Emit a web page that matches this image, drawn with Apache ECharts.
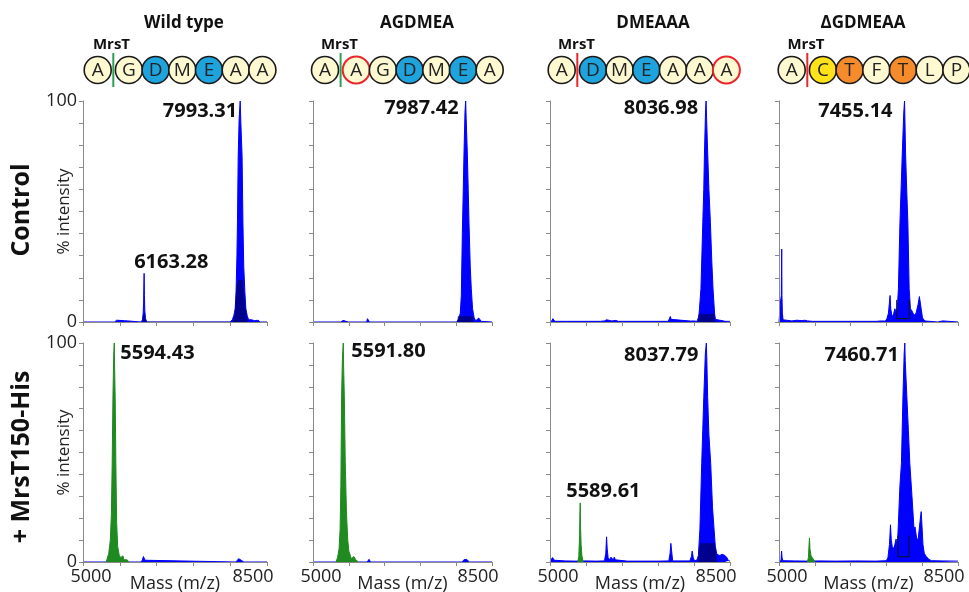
<!DOCTYPE html>
<html><head><meta charset="utf-8">
<script src="https://cdn.jsdelivr.net/npm/echarts@6/dist/echarts.min.js"></script>
<style>html,body{margin:0;padding:0;background:#fff}#c{width:969px;height:592px}</style>
</head><body><div id="c"></div>
<script>
// ---------------- DATA ----------------
const columnTitles = ['Wild type', 'AGDMEA', 'DMEAAA', '\u0394GDMEAA'];
const rowTitles = ['Control', '+ MrsT150-His'];
const proteaseName = 'MrsT';
const sequences = [
  ['A','G','D','M','E','A','A'],
  ['A','A','G','D','M','E','A'],
  ['A','D','M','E','A','A','A'],
  ['A','C','T','F','T','L','P']
];
const residueKinds = [
  ['n','n','b','n','b','n','n'],
  ['n','r','n','b','n','b','n'],
  ['n','b','n','b','n','n','r'],
  ['n','y','o','n','o','n','n']
];
const cleavageMarkColor = ['g','g','r','r'];
const massTicks = [5000, 5700, 6400, 7100, 7800, 8500];
const massTickLabels = [5000, 8500];
const intensityTickLabels = [0, 100];
const xAxisTitle = 'Mass (m/z)';
const yAxisTitle = '% intensity';

// spectra  [mass, % intensity]
const ctrlWT_blue = [[5000,0],[5100,0],[5115,0.8],[5130,0],[5600,0],[5640,0.8],[5660,0],[5790,0.6],[5810,0],[6110,0],[6130,1],[6145,4],[6153,9],[6159,18],[6163,22],[6168,12],[6176,5],[6190,1.5],[6215,0],[7800,0],[7840,1],[7870,3],[7895,6],[7912,14],[7928,30],[7938,45],[7952,75],[7970,92],[7990,100],[8003,90],[8026,75],[8042,45],[8058,25],[8078,14],[8098,6],[8122,3],[8150,1],[8180,0.8],[8210,1],[8260,0.6],[8330,0.8],[8370,0],[8500,0]];
const ctrlWT_dark = [[6140,0],[6152,3],[6163,4],[6174,3],[6188,0],[7860,0],[7890,3],[7910,10],[7930,17],[7960,19],[8030,19],[8060,12],[8090,5],[8120,1],[8140,0]];
const ctrlWT_peaks = [[7990,100,'7993.31'],[6163,22,'6163.28']];

const ctrlAG_blue = [[5000,0],[5010,0],[5020,0.8],[5035,0],[5540,0],[5555,0.6],[5575,0.4],[5590,0.7],[5605,0],[5690,0],[5700,0.6],[5710,0],[6050,0],[6065,1.5],[6078,2.2],[6090,0.8],[6105,0],[7810,0],[7850,1.5],[7880,4],[7900,12],[7920,40],[7940,62],[7952,76],[7972,95],[7985,100],[7995,92],[8018,76],[8035,60],[8050,45],[8075,25],[8095,15],[8120,6],[8150,2],[8180,0.5],[8215,1],[8240,1.8],[8265,1.5],[8290,0.3],[8320,0],[8500,0]];
const ctrlAG_dark = [[7830,0],[7840,2.5],[8120,2.5],[8130,0]];
const ctrlAG_peaks = [[7985,100,'7987.42']];

const ctrlDM_blue = [[5000,0.3],[5040,0.5],[5055,1.5],[5065,2.2],[5078,1],[5095,0.3],[5300,0.3],[5320,0.6],[5340,0.3],[5980,0.3],[6000,0.6],[6060,0.5],[6100,1],[6130,0.6],[6200,0.5],[6280,0.7],[6330,0.3],[7300,0.3],[7325,1],[7340,2.5],[7355,1.2],[7380,0.3],[7740,0.4],[7765,1.2],[7785,0.5],[7860,0.3],[7885,2],[7900,4],[7935,15],[7971,45],[7990,60],[8003,76],[8025,96],[8035,100],[8045,92],[8067,76],[8090,60],[8119,45],[8145,28],[8170,15],[8200,4],[8215,1.2],[8260,1],[8300,0.8],[8360,0.6],[8400,0.3],[8500,0.3]];
const ctrlDM_dark = [[7890,0],[7905,3.5],[8195,3.5],[8212,0]];
const ctrlDM_peaks = [[8035,100,'8036.98']];

const ctrlDG_blue = [[5000,0],[5015,0.5],[5028,9],[5045,12],[5053,33],[5058,12],[5066,4],[5080,1],[5100,0.6],[5250,0.5],[5350,0.8],[5450,0.6],[5500,0.8],[5560,0.5],[5650,0.3],[6900,0.3],[7000,0.5],[7080,0.4],[7110,1.5],[7140,4],[7160,9],[7172,12],[7185,6],[7210,2.5],[7240,3.5],[7265,6],[7280,5],[7300,4],[7320,9],[7335,15],[7365,45],[7390,62],[7410,76],[7440,95],[7455,100],[7462,92],[7475,76],[7500,58],[7520,45],[7545,15],[7570,6],[7600,5],[7640,3],[7680,4],[7720,8],[7745,11.5],[7760,11],[7780,6],[7805,2],[7830,1],[7870,0.4],[7950,0.3],[8100,0],[8200,0.5],[8230,0],[8500,0]];
const ctrlDG_box = [[7301,10],[7301,1.5],[7548,1.5],[7548,10]];
const ctrlDG_peaks = [[7455,100,'7455.14']];

const mrsWT_blue = [[5000,0],[6110,0],[6130,1],[6150,2.5],[6160,2.2],[6180,0.8],[6200,0],[7910,0],[7940,0.8],[7960,1.5],[7985,1.3],[8010,0.8],[8040,0.3],[8060,0],[8500,0]];
const mrsWT_green = [[5440,0],[5460,1.5],[5490,4],[5520,10],[5540,22],[5555,45],[5570,76],[5585,95],[5595,100],[5602,88],[5612,75],[5625,45],[5640,18],[5660,7],[5690,3],[5720,2],[5745,1.2],[5760,2.8],[5775,1],[5800,0.5],[5840,1],[5870,0]];
const mrsWT_peaks = [[5595,100,'5594.43']];

const mrsAG_blue = [[5000,0],[6060,0],[6080,0.8],[6095,1.2],[6110,0.5],[6125,0],[7920,0],[7950,1],[7975,1.6],[8000,1.2],[8030,0.5],[8060,0],[8500,0]];
const mrsAG_green = [[5450,0],[5480,2],[5510,6],[5530,15],[5545,35],[5560,76],[5575,93],[5592,100],[5598,90],[5612,76],[5630,46],[5655,22],[5680,10],[5700,5],[5730,3],[5750,1.5],[5780,2],[5800,2.5],[5830,1.2],[5860,1.8],[5885,0]];
const mrsAG_peaks = [[5592,100,'5591.80']];

const mrsDM_blue = [[5000,0.4],[5030,0.6],[5050,2],[5068,2.6],[5085,0.8],[5110,0.4],[5300,0.5],[5500,0.4],[5700,0.5],[5900,0.4],[6060,0.5],[6085,4],[6100,11.5],[6112,6],[6130,2],[6160,1],[6185,2.2],[6200,1.5],[6230,1],[6250,2.2],[6270,1],[6300,0.5],[6500,0.4],[6800,0.4],[7100,0.4],[7310,0.5],[7335,4],[7350,8.5],[7365,5],[7385,0.5],[7720,0.5],[7750,2.5],[7765,5],[7785,2],[7810,0.5],[7860,1],[7885,3],[7915,15],[7950,45],[7970,60],[7990,75],[8020,95],[8040,100],[8050,92],[8066,75],[8090,58],[8125,45],[8160,25],[8190,15],[8215,7],[8245,3.5],[8300,3],[8350,3.5],[8400,3],[8440,2],[8470,0.6],[8500,0.4]];
const mrsDM_green = [[5540,0],[5560,2.5],[5575,12],[5583,24],[5588,27],[5594,16],[5605,8],[5620,3],[5645,0]];
const mrsDM_dark = [[7890,0],[7905,6],[7930,8.5],[8200,8.5],[8230,3],[8240,0]];
const mrsDM_peaks = [[8040,100,'8037.79'],[5588,27,'5589.61']];

const mrsDG_blue = [[5000,0.4],[5040,0.6],[5050,5],[5060,2],[5075,0.6],[5300,0.5],[5550,0.4],[5800,0.5],[6100,0.4],[6500,0.5],[6900,0.4],[7100,0.6],[7130,2],[7160,8],[7180,17],[7195,10],[7215,7],[7240,6],[7265,8],[7290,10.5],[7305,7],[7320,10],[7335,18],[7365,35],[7394,45],[7424,76],[7447,95],[7460,100],[7468,92],[7499,76],[7530,60],[7558,45],[7600,30],[7640,15],[7660,16],[7690,11],[7720,10],[7755,18],[7780,23],[7795,17],[7815,8],[7840,4],[7880,2.5],[7930,1.2],[7980,0.6],[8200,0.5],[8500,0.4]];
const mrsDG_green = [[5555,0],[5575,2],[5590,9],[5596,11],[5605,6],[5625,3],[5650,2],[5680,1],[5700,0]];
const mrsDG_box = [[7326,12],[7326,2.4],[7543,2.4],[7543,12]];
const mrsDG_peaks = [[7460,100,'7460.71']];

// ---------------- LAYOUT / STYLE ----------------
const FONT = '"Open Sans", "DejaVu Sans", sans-serif';
const colLeft = [83, 313, 550, 779];
const colWidth = [184, 179, 180, 179];
const rowTop = [101, 343];
const rowHeight = [221, 219];
const COLORS = { blue:'#0000FF', green:'#1F8A1F', dark:'#00007A', axis:'#8a8a8a', text:'#111111' };

// label placement per panel: [position, distance, dx, dy]
const panels = [
  {row:0,col:0, blue:ctrlWT_blue, dark:ctrlWT_dark, peaks:ctrlWT_peaks, place:[['left',3,0,10],['right',0,-10,-11]]},
  {row:0,col:1, blue:ctrlAG_blue, dark:ctrlAG_dark, peaks:ctrlAG_peaks, place:[['left',7,0,7]]},
  {row:0,col:2, blue:ctrlDM_blue, dark:ctrlDM_dark, peaks:ctrlDM_peaks, place:[['left',8,0,7]]},
  {row:0,col:3, blue:ctrlDG_blue, box:ctrlDG_box, peaks:ctrlDG_peaks, place:[['left',12,0,10]]},
  {row:1,col:0, blue:mrsWT_blue, green:mrsWT_green, peaks:mrsWT_peaks, place:[['right',6,0,10]]},
  {row:1,col:1, blue:mrsAG_blue, green:mrsAG_green, peaks:mrsAG_peaks, place:[['right',8,0,8]]},
  {row:1,col:2, blue:mrsDM_blue, green:mrsDM_green, dark:mrsDM_dark, peaks:mrsDM_peaks, place:[['left',8,0,12],['right',0,-14,-12]]},
  {row:1,col:3, blue:mrsDG_blue, green:mrsDG_green, box:mrsDG_box, peaks:mrsDG_peaks, place:[['left',6,0,12]]}
];

const grids = [], xAxes = [], yAxes = [], series = [];
panels.forEach((p, i) => {
  grids.push({left:colLeft[p.col], top:rowTop[p.row], width:colWidth[p.col], height:rowHeight[p.row],
    containLabel:false, outerBoundsMode:'none'});
  const bottom = p.row === 1;
  xAxes.push({
    type:'value', gridIndex:i, min:5000, max:8500, z:5,
    axisLine:{show:true, onZero:false, lineStyle:{color:COLORS.axis, width:1}},
    axisTick:{show:true, customValues:massTicks, length:4, lineStyle:{color:COLORS.axis}},
    axisLabel: bottom ? {
      show:true, customValues:massTickLabels, margin:6, color:'#222', fontSize:18, fontFamily:FONT,
      formatter: v => v === massTickLabels[0] ? '{a|' + v + '}' : '{b|' + v + '}',
      rich:{a:{padding:[0,0,0,16], fontSize:18, fontFamily:FONT, color:'#222'},
            b:{padding:[0,28,0,0], fontSize:18, fontFamily:FONT, color:'#222'}}
    } : {show:false},
    splitLine:{show:false},
    name: bottom ? xAxisTitle : '', nameLocation:'middle', nameGap:13, nameMoveOverlap:false,
    nameTextStyle:{fontSize:18, fontFamily:FONT, color:'#222'}
  });
  const first = p.col === 0;
  yAxes.push({
    type:'value', gridIndex:i, min:0, max:100, interval:10, z:5,
    axisLine:{show:true, onZero:false, lineStyle:{color:COLORS.axis, width:1}},
    axisTick:{show:true, length:4, lineStyle:{color:COLORS.axis}},
    axisLabel: first ? {show:true, customValues:intensityTickLabels, margin:6, color:'#222', fontSize:18, fontFamily:FONT} : {show:false},
    splitLine:{show:false},
    name: first ? yAxisTitle : '', nameLocation:'middle', nameGap:10, nameRotate:90, nameMoveOverlap:false,
    nameTextStyle:{fontSize:17, fontFamily:FONT, color:'#222'}
  });
  const base = {type:'line', xAxisIndex:i, yAxisIndex:i, symbol:'none', showSymbol:false, silent:true, animation:false, smooth:false};
  series.push(Object.assign({}, base, {data:p.blue, z:2, lineStyle:{color:COLORS.blue, width:1}, itemStyle:{color:COLORS.blue}, areaStyle:{color:COLORS.blue, opacity:1}}));
  if (p.green) series.push(Object.assign({}, base, {data:p.green, z:3, lineStyle:{color:COLORS.green, width:1}, itemStyle:{color:COLORS.green}, areaStyle:{color:COLORS.green, opacity:1}}));
  if (p.dark) series.push(Object.assign({}, base, {data:p.dark, z:3, lineStyle:{color:COLORS.dark, width:0.5}, itemStyle:{color:COLORS.dark}, areaStyle:{color:COLORS.dark, opacity:0.85}}));
  if (p.box) series.push(Object.assign({}, base, {data:p.box, z:4, lineStyle:{color:'#111', width:1}, itemStyle:{color:'#111'}}));
  series.push({
    type:'scatter', xAxisIndex:i, yAxisIndex:i, z:6, silent:true, animation:false,
    symbolSize:0, itemStyle:{color:'#000000', opacity:1},
    data: p.peaks.map((pk, k) => ({
      value:[pk[0], pk[1]], name:pk[2],
      label:{show:true, position:p.place[k][0], distance:p.place[k][1], offset:[p.place[k][2], p.place[k][3]],
        formatter:pk[2], fontSize:20, fontWeight:'bold', fontFamily:FONT, color:COLORS.text, opacity:1}
    }))
  });
});

// ---------------- HEADER GRAPHICS ----------------
const H = {titleY:23, titleX:[184,417,653,863], mrstY:45, mrstX:[111.5,339.5,576.5,806],
  circleY:70, circleX0:[97.7,325,561.7,791.7], step:26.7, gap:4.5, r:13.5,
  rowLabelX:22, rowLabelY:[210,457]};
const fillOf = {n:'#FFF9D2', r:'#FFF9D2', b:'#1FA3DD', y:'#FFE21A', o:'#F58B2B'};
const markOf = {g:'#2E9E52', r:'#E8262B'};
const graphic = [];
columnTitles.forEach((t, c) => {
  graphic.push({type:'text', x:H.titleX[c], y:H.titleY, silent:true,
    style:{text:t, align:'center', verticalAlign:'middle', font:'bold 17px ' + FONT, fill:COLORS.text}});
  graphic.push({type:'text', x:H.mrstX[c], y:H.mrstY, silent:true,
    style:{text:proteaseName, align:'center', verticalAlign:'middle', font:'bold 15px ' + FONT, fill:COLORS.text}});
  sequences[c].forEach((aa, k) => {
    const cx = H.circleX0[c] + k * H.step + (k >= 1 ? H.gap : 0);
    const kind = residueKinds[c][k];
    graphic.push({type:'circle', silent:true, shape:{cx:cx, cy:H.circleY, r:H.r}, z:10,
      style:{fill:fillOf[kind], stroke: kind === 'r' ? '#E8262B' : '#1a1a1a', lineWidth: kind === 'r' ? 2 : 1.6}});
    graphic.push({type:'text', silent:true, x:cx, y:H.circleY + 1, z:11,
      style:{text:aa, align:'center', verticalAlign:'middle', font:'19px ' + FONT, fill:'#222'}});
  });
  const lx = H.circleX0[c] + (H.step + H.gap) / 2;
  graphic.push({type:'line', silent:true, z:12, shape:{x1:lx, y1:H.circleY - 17, x2:lx, y2:H.circleY + 17},
    style:{stroke:markOf[cleavageMarkColor[c]], lineWidth:2}});
});
rowTitles.forEach((t, r) => {
  graphic.push({type:'text', silent:true, x:H.rowLabelX, y:H.rowLabelY[r], rotation:Math.PI / 2,
    style:{text:t, align:'center', verticalAlign:'middle', font:'bold 25px ' + FONT, fill:'#111'}});
});

const chart = echarts.init(document.getElementById('c'), null, {renderer:'canvas'});
chart.setOption({
  animation:false,
  backgroundColor:'#ffffff',
  textStyle:{fontFamily:FONT},
  grid:grids, xAxis:xAxes, yAxis:yAxes, series:series, graphic:graphic
});
</script>
</body></html>
